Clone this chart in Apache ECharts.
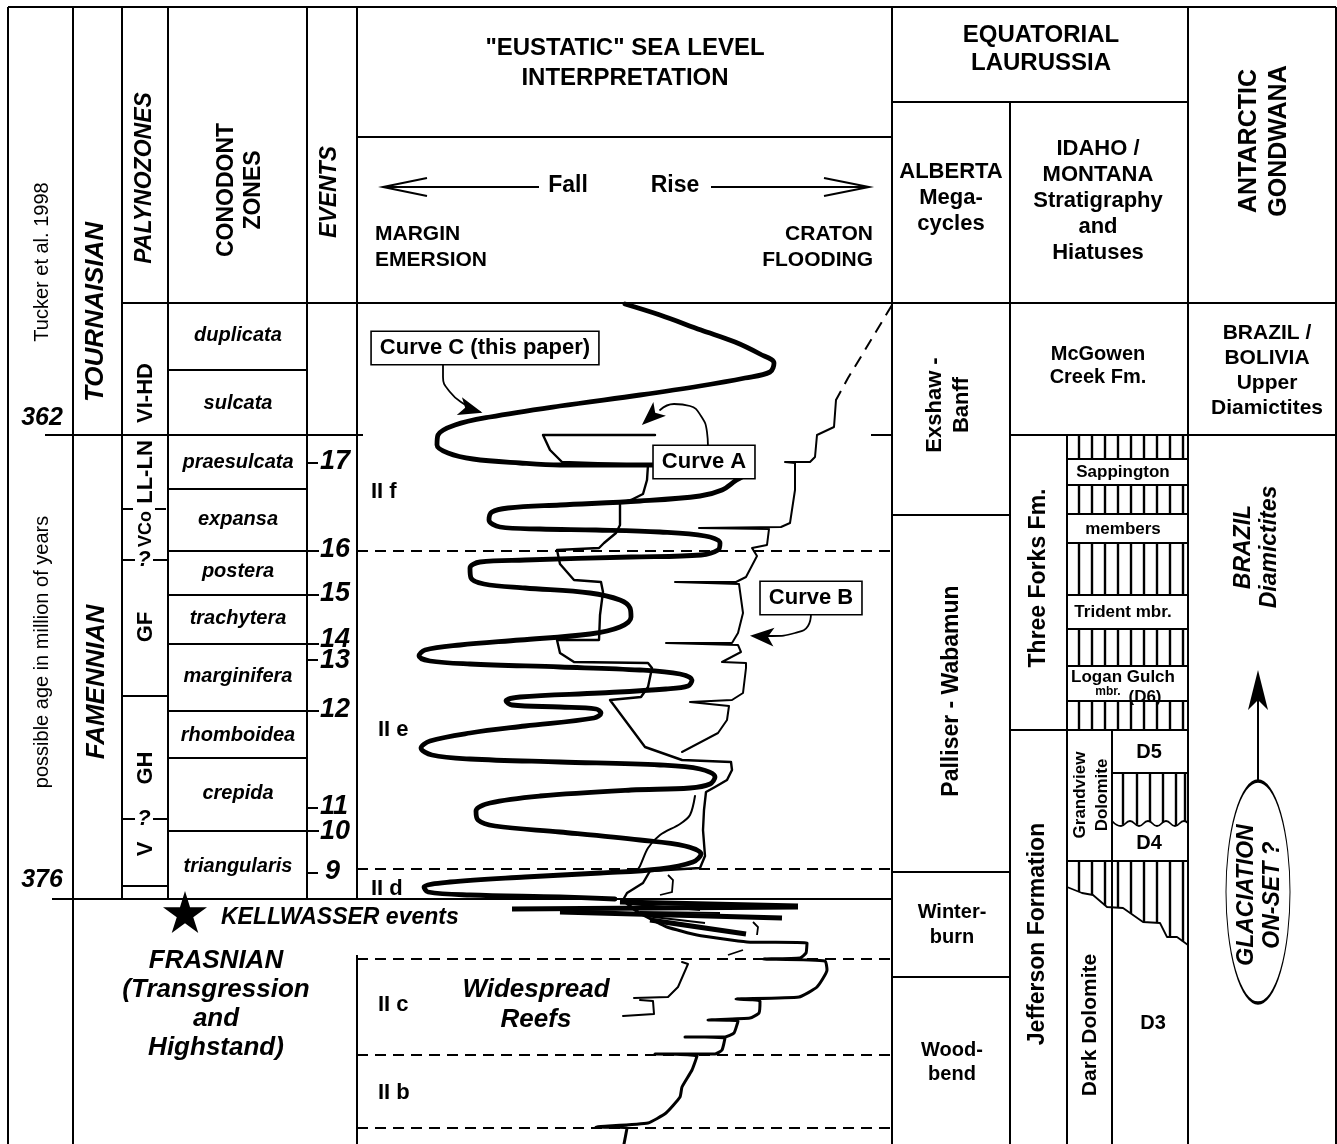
<!DOCTYPE html>
<html><head><meta charset="utf-8">
<script src="https://cdn.jsdelivr.net/npm/echarts@6/dist/echarts.min.js"></script>
<style>html,body{margin:0;padding:0;background:#fff}#c{width:1337px;height:1144px}</style>
</head><body><div id="c"></div>
<script>
// ================= DATA (chart units: x across the sheet, y = stratigraphic row, top→bottom) =================
const conodontZones = ['duplicata','sulcata','praesulcata','expansa','postera','trachytera','marginifera','rhomboidea','crepida','triangularis'];
const conodontBounds = [303,370,435,489,551,595,644,711,758,831,899];
const conodontMid = [335,403,462,519,571,618,676,735,793,866];
const palynoZones = ['VI-HD','LL-LN','VCo','GF','GH','V'];
const palynoMid = [393,472,529,627,768,849];
const eventNumbers = ['17','16','15','14','13','12','11','10','9'];
const eventLevels = [462,550,594,640,661,710,807,832,872];
const eventTicks = [463,660,808,873];
const eventBounds = [551,595,644,711,831];

// Curve C (this paper) – thick oscillating sea-level curve
const curveC = [[625,304],[660,315],[701,330],[735,342],[760,354],[774,363],[770,372],[745,378],[700,386],[640,395],[560,406],[490,417],[455,425],[438,435],[437,445],[448,453],[473,459],[520,463],[560,465],[652,465],[715,467],[740,470],[745,474],[735,481],[722,490],[700,496],[640,501],[560,505],[508,508],[492,512],[489,520],[500,527],[540,529],[596,530],[660,532],[705,536],[720,543],[718,550],[701,555],[631,557],[525,560],[480,562],[470,568],[471,578],[484,584],[525,588],[590,593],[620,600],[630,608],[631,617],[620,627],[590,634],[520,640],[460,645],[425,650],[419,656],[430,661],[470,664],[560,667],[640,670],[680,674],[692,680],[688,686],[666,689],[600,693],[520,697],[506,701],[512,705],[560,707],[596,709],[601,713],[594,718],[525,726],[470,733],[430,741],[421,748],[432,755],[470,759],[560,762],[660,765],[700,769],[715,777],[710,784],[690,788],[631,790],[540,796],[490,803],[476,811],[478,820],[495,826],[560,832],[640,840],[685,846],[701,854],[693,862],[660,869],[600,873],[525,877],[450,882],[424,887],[428,892],[470,895],[560,897],[615,899]];
// Curve A (continues into the Frasnian stepped curve)
const curveA = [[655,435],[543,435],[550,450],[562,462],[648,465],[647,480],[643,494],[631,500],[620,503],[620,525],[616,533],[604,543],[599,548],[557,550],[560,564],[574,580],[601,582],[603,592],[600,615],[599,640],[557,640],[560,653],[574,662],[648,663],[652,668],[648,687],[641,697],[610,700],[645,747],[682,760],[731,762],[732,770],[727,780],[715,787],[706,792],[704,810],[703,830],[705,856],[700,868],[650,871],[643,883],[627,893],[623,900]];
// Curve B
const curveBDashed = [[892,305],[877,330],[862,355],[848,378],[836,400]];
const curveB = [[836,400],[834,427],[817,435],[815,457],[810,462],[785,462],[795,463],[795,490],[790,523],[781,527],[699,528],[769,529],[767,545],[752,548],[757,556],[746,577],[736,582],[675,582],[739,584],[743,613],[738,633],[732,643],[666,643],[738,645],[741,652],[722,662],[746,663],[746,668],[743,693],[732,700],[690,702],[729,706],[727,720],[718,733],[682,752]];
const curveBLower = [[695,796],[690,815],[680,824],[660,835],[648,848],[640,866],[636,872]];
const smallMarks = [[[668,875],[673,880],[672,892],[660,895]],[[753,922],[758,927],[757,935]],[[743,950],[728,955]]];
// Frasnian stepped curve
const frasnianCurve = [[623,900],[635,910],[647,917],[667,927],[697,935],[747,942],[807,943],[806,953],[800,958],[763,959],[825,961],[827,970],[817,987],[799,997],[736,999],[760,1001],[759,1013],[750,1018],[708,1020],[738,1021],[734,1033],[725,1037],[685,1037],[725,1038],[722,1050],[715,1054],[655,1054],[697,1056],[692,1070],[682,1087],[680,1097],[666,1113],[648,1123],[596,1127],[627,1128],[624,1144]];
const frasnianInner1 = [[682,962],[688,964],[678,987],[668,997],[634,998]];
const frasnianInner2 = [[640,1000],[653,1001],[654,1014],[623,1016]];
const kellwasserLines = [[[512,909],[798,907]],[[620,902],[798,906]],[[560,912],[782,918]],[[650,920],[746,934]]];
const kellwasserThin = [[[640,912],[720,913]],[[645,916],[705,923]],[[630,904],[700,910]]];
// Idaho/Montana lithology
const threeForksBands = [[435,459],[485,514],[543,595],[629,666],[701,730]];
const hatchX = [1079,1092,1105,1118,1131,1144,1157,1170,1183];
const d4HatchX = [1123,1137,1150,1163,1176,1185];
const d4Wave = [[1112,821],[1121,826],[1130,821],[1139,826],[1148,821],[1157,826],[1166,821],[1175,826],[1184,821],[1188,823]];
const d3Boundary = [[1067,887],[1082,893],[1093,895],[1107,907],[1123,908],[1143,922],[1160,923],[1167,937],[1177,937],[1188,945]];

// ================= LAYOUT =================
const FONT = '"Liberation Sans", Arial, Helvetica, sans-serif';
const solidRules = [
  [[8,7],[1336,7]],[[8,7],[8,1144]],[[1336,7],[1336,1144]],
  [[73,7],[73,1144]],[[122,7],[122,899]],[[168,7],[168,899]],[[307,7],[307,899]],
  [[357,7],[357,899]],[[357,955],[357,1144]],
  [[892,7],[892,1144]],[[1010,102],[1010,1144]],[[1188,7],[1188,1144]],
  [[1067,435],[1067,1144]],[[1112,730],[1112,1144]],
  [[122,303],[1336,303]],[[357,137],[892,137]],[[892,102],[1188,102]],
  [[45,435],[357,435]],[[357,435],[363,435]],[[871,435],[892,435]],[[1010,435],[1336,435]],
  [[52,899],[892,899]],
  [[122,696],[168,696]],[[122,886],[168,886]],
  [[892,515],[1010,515]],[[892,872],[1010,872]],[[892,977],[1010,977]],
  [[1010,730],[1188,730]],[[1067,861],[1188,861]],[[1112,773],[1188,773]],
  [[122,509],[133,509]],[[155,509],[166,509]],
  [[123,560],[135,560]],[[153,560],[167,560]],
  [[123,819],[135,819]],[[153,819],[167,819]]
];
conodontBounds.slice(1,-1).forEach(y => solidRules.push([[168,y],[eventBounds.includes(y)?319:307,y]]));
eventTicks.forEach(y => solidRules.push([[307,y],[318,y]]));
threeForksBands.forEach(([a,b]) => { solidRules.push([[1067,a],[1188,a]]); solidRules.push([[1067,b],[1188,b]]); });
const dashedRules = [551,869,959,1055,1128].map(y => [[357,y],[892,y]]);

function interpY(poly, x){
  for (let i=0;i<poly.length-1;i++){
    const [x0,y0]=poly[i],[x1,y1]=poly[i+1];
    if (x>=x0 && x<=x1) return y0+(y1-y0)*(x-x0)/(x1-x0||1);
  }
  return poly[poly.length-1][1];
}
const hatchRules = [];
threeForksBands.forEach(([a,b]) => hatchX.forEach(x => hatchRules.push([[x,a],[x,b]])));
d4HatchX.forEach(x => hatchRules.push([[x,773],[x,interpY(d4Wave,x)]]));
hatchX.forEach(x => hatchRules.push([[x,861],[x,interpY(d3Boundary,x)]]));

// arrows
const openArrows = [
  [[383,187],[539,187]],[[427,178],[383,187],[427,196]],
  [[711,187],[869,187]],[[824,178],[869,187],[824,196]]
];
const leaderC = [[443,363],[443,377],[450,392],[464,404],[480,412]];
const leaderA = [[708,447],[707,432],[701,416],[690,406],[674,404],[660,410]];
const leaderB = [[811,613],[808,626],[795,633],[772,636],[755,636]];
const gondwanaArrowLine = [[1258,782],[1258,680]];

function headAt(tip, from, size){
  const dx=tip[0]-from[0], dy=tip[1]-from[1], L=Math.hypot(dx,dy);
  const ux=dx/L, uy=dy/L;
  const ang = Math.atan2(-dy,dx)*180/Math.PI - 90;
  return {value:[tip[0]-ux*size[1]/2, tip[1]-uy*size[1]/2], symbolRotate: ang, symbolSize: size};
}
const arrowHeads = [
  headAt([494,416],[480,412],[14,24]),
  headAt([633,433],[655,413],[14,24]),
  headAt([738,635],[755,636],[14,24]),
  headAt([1258,650],[1258,680],[15,40])
];

// ================= TEXT =================
const texts = [];
function T(str,x,y,size,o){
  o=o||{};
  texts.push({name:str, value:[x,y], label:{
    rotate:o.rot||0, fontSize:size, fontFamily:FONT,
    fontWeight:o.normal?'normal':'bold', fontStyle:o.it?'italic':'normal',
    align:o.align||'center', verticalAlign:'middle', lineHeight:o.lh||Math.round(size*1.15),
    backgroundColor:o.box?'#fff':'transparent', borderColor:o.box?'#000':'transparent',
    borderWidth:o.box?1.6:0, padding:o.box?[4,8,3,8]:0, color:'#000', opacity:1,
    textBorderWidth:0
  }});
}
// left columns
T('Tucker et al. 1998',42,262,20,{rot:90,normal:true});
T('362',42,418,25,{it:true});
T('possible age in million of years',42,652,20,{rot:90,normal:true});
T('376',42,880,25,{it:true});
T('TOURNAISIAN',96,312,26,{rot:90,it:true});
T('FAMENNIAN',97,682,26,{rot:90,it:true});
T('PALYNOZONES',145,178,23,{rot:90,it:true});
T('CONODONT\nZONES',240,190,23,{rot:90,lh:27});
T('EVENTS',330,192,23,{rot:90,it:true});
palynoZones.forEach((z,i)=>T(z,146,palynoMid[i],z==='VCo'?18:22,{rot:90}));
T('?',144,560,22,{it:true});
T('?',144,819,22,{it:true});
conodontZones.forEach((z,i)=>T(z,238,conodontMid[i],20,{it:true}));
eventNumbers.forEach((n,i)=>T(n,n==='9'?325:320,eventLevels[i],27,{it:true,align:'left'}));
T('KELLWASSER events',221,918,23,{it:true,align:'left'});
T('FRASNIAN\n(Transgression\nand\nHighstand)',216,1004,26,{it:true,lh:29});
// sea level panel
T('"EUSTATIC" SEA LEVEL\nINTERPRETATION',625,63,24,{lh:30});
T('Fall',568,186,23); T('Rise',675,186,23);
T('MARGIN\nEMERSION',375,247,21,{align:'left',lh:26});
T('CRATON\nFLOODING',873,247,21,{align:'right',lh:26});
T('II f',371,492,22,{align:'left'});
T('II e',378,730,22,{align:'left'});
T('II d',371,889,22,{align:'left'});
T('II c',378,1005,22,{align:'left'});
T('II b',378,1093,22,{align:'left'});
T('Widespread\nReefs',536,1005,26,{it:true,lh:30});
T('Curve C (this paper)',485,348,22,{box:true});
T('Curve A',704,462,22,{box:true});
T('Curve B',811,598,22,{box:true});
// right columns
T('EQUATORIAL\nLAURUSSIA',1041,49,24,{lh:28});
T('ALBERTA\nMega-\ncycles',951,198,22,{lh:26});
T('IDAHO /\nMONTANA\nStratigraphy\nand\nHiatuses',1098,201,22,{lh:26});
T('ANTARCTIC\nGONDWANA',1264,141,25,{rot:90,lh:30});
T('McGowen\nCreek Fm.',1098,366,20,{lh:23});
T('BRAZIL /\nBOLIVIA\nUpper\nDiamictites',1267,371,21,{lh:25});
T('Exshaw -\nBanff',948,405,22,{rot:90,lh:27});
T('Palliser - Wabamun',952,691,23,{rot:90});
T('Winter-\nburn',952,925,20,{lh:25});
T('Wood-\nbend',952,1062,20,{lh:24});
T('Three Forks Fm.',1039,578,23,{rot:90});
T('Sappington',1123,472,17); T('members',1123,529,17); T('Trident mbr.',1123,612,17);
T('Logan Gulch',1123,677,17); T('mbr.',1108,692,12); T('(D6)',1145,697,17);
T('Jefferson Formation',1038,934,23,{rot:90});
T('Grandview\nDolomite',1091,795,17,{rot:90,lh:22});
T('D5',1149,752,20); T('D4',1149,843,20); T('D3',1153,1023,20);
T('Dark Dolomite',1090,1025,21,{rot:90});
T('BRAZIL\nDiamictites',1257,547,23,{rot:90,it:true,lh:26});
T('GLACIATION\nON-SET ?',1260,895,23,{rot:90,it:true,lh:26});

// ================= CHART =================
const black='#000';
const linesSeries = (data, width, extra) => Object.assign({
  type:'lines', coordinateSystem:'cartesian2d', polyline:true, silent:true, z:2,
  data: data.map(c=>({coords:c})),
  lineStyle:{color:black, width:width, opacity:1}
}, extra||{});
const lineSeries = (data, width, extra) => Object.assign({
  type:'line', data:data, showSymbol:false, symbol:'none', silent:true, clip:false, z:3,
  lineStyle:{color:black, width:width, cap:'round', join:'round', opacity:1}
}, extra||{});
const solidItem = {color:black, opacity:1};

const chart = echarts.init(document.getElementById('c'));
chart.setOption({
  animation:false,
  backgroundColor:'#fff',
  grid:{left:0,right:0,top:0,bottom:0},
  xAxis:{type:'value',min:0,max:1337,show:false},
  yAxis:{type:'value',min:0,max:1144,inverse:true,show:false},
  series:[
    linesSeries(solidRules,2),
    linesSeries(dashedRules,2,{lineStyle:{color:black,width:2,opacity:1,type:[11,7]}}),
    linesSeries(hatchRules,2.4),
    linesSeries(openArrows,2),
    linesSeries(kellwasserLines,5,{z:4}),
    linesSeries(kellwasserThin,2,{z:4}),
    linesSeries(smallMarks,1.8),
    lineSeries(d4Wave,1.8,{smooth:0.5}),
    lineSeries(d3Boundary,1.8),
    lineSeries(gondwanaArrowLine,2),
    lineSeries(curveBDashed,2,{lineStyle:{color:black,width:2,type:[12,8],opacity:1}}),
    lineSeries(curveB,2),
    lineSeries(curveBLower,2,{smooth:0.3}),
    lineSeries(curveA,2.4),
    lineSeries(frasnianCurve,3,{smooth:0.15}),
    lineSeries(frasnianInner1,2),
    lineSeries(frasnianInner2,2),
    lineSeries(curveC,4.8,{smooth:0.35,z:4}),
    lineSeries(leaderC,1.8,{smooth:0.5}),
    lineSeries(leaderA,1.8,{smooth:0.5}),
    lineSeries(leaderB,1.8,{smooth:0.5}),
    {type:'scatter', silent:true, z:5, symbol:'circle', data:[{value:[1258,892]}], symbolSize:[64,222],
      itemStyle:{color:'#fff',borderColor:black,borderWidth:1.8,opacity:1}},
    {type:'scatter', silent:true, z:5, symbol:'arrow', data:arrowHeads, itemStyle:solidItem},
    {type:'scatter', silent:true, z:5, data:[{value:[185,912]}], symbolSize:[44,42],
      symbol:'path://M50,0 L61,35 L98,35 L68,57 L79,91 L50,70 L21,91 L32,57 L2,35 L39,35 Z', itemStyle:solidItem},
    {type:'scatter', silent:true, z:10, symbol:'circle', symbolSize:1, itemStyle:{color:'rgba(0,0,0,0)',opacity:1},
      data:texts, label:{show:true, position:'inside', formatter:p=>p.name, color:black, opacity:1, textBorderWidth:0},
      labelLayout:{hideOverlap:false}}
  ]
});
</script></body></html>
